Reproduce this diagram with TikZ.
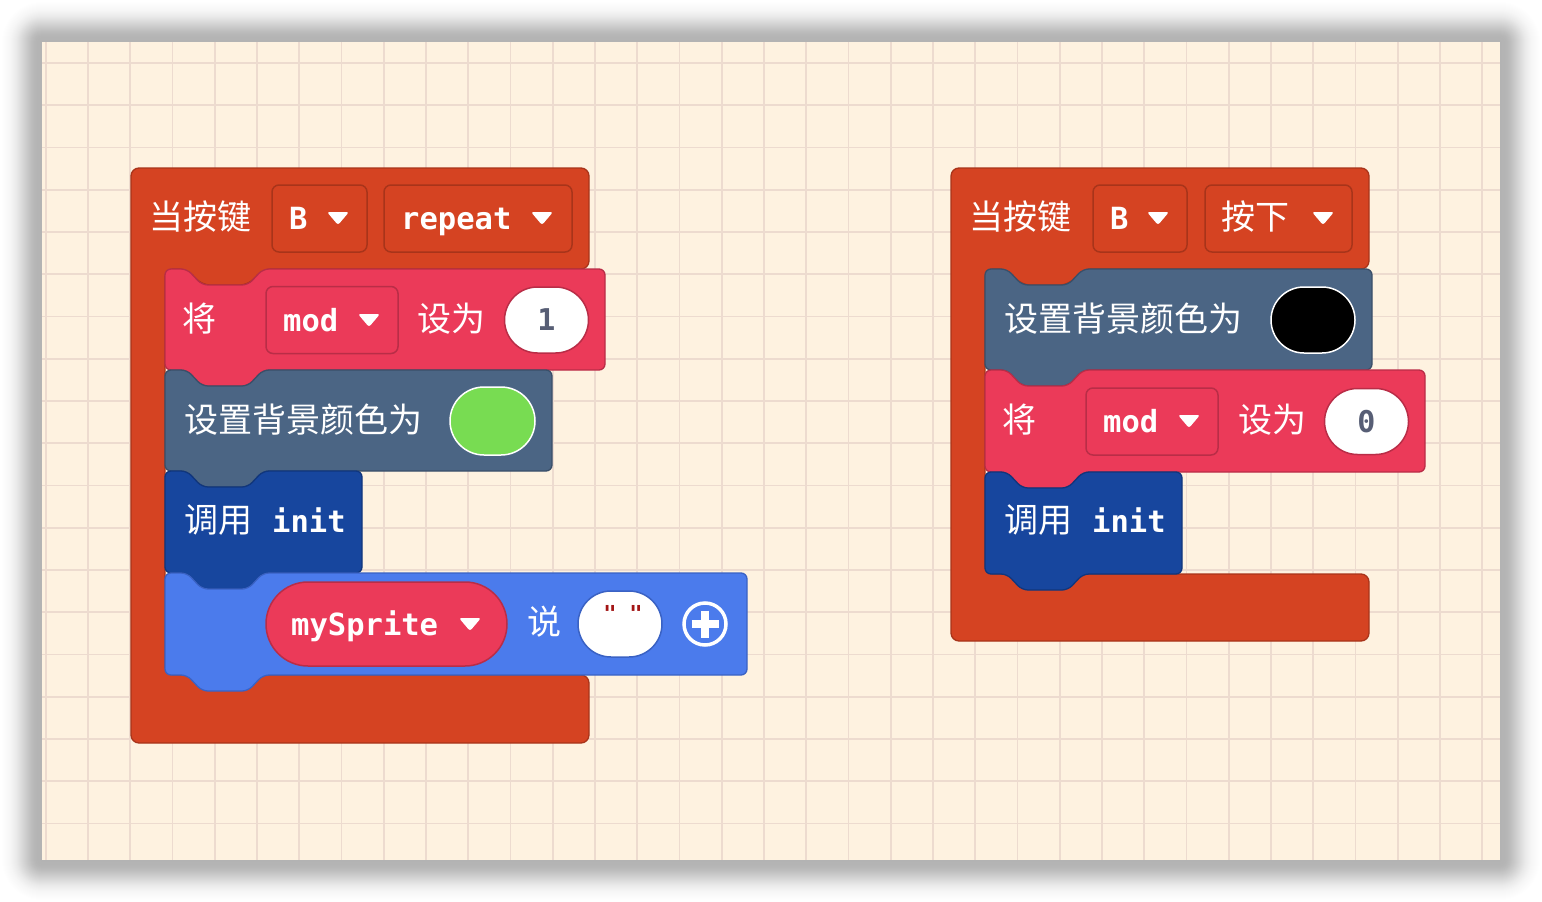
\documentclass[tikz,border=0pt]{standalone}
\usepackage{fontspec}
\newfontfamily\cjkfont{Noto Sans CJK SC}
\newfontfamily\codefont{DejaVu Sans Mono}
\usepackage{tikz}
\usetikzlibrary{positioning}
\definecolor{CanvasBg}{HTML}{FEF2E0}
\definecolor{GridLine}{HTML}{EDDBCF}
\definecolor{EventRed}{HTML}{D54322}
\definecolor{EventDark}{HTML}{A8341A}
\definecolor{VarPink}{HTML}{EB3A59}
\definecolor{VarDark}{HTML}{B92D47}
\definecolor{SceneSlate}{HTML}{4B6584}
\definecolor{SceneDark}{HTML}{3A4F69}
\definecolor{FuncBlue}{HTML}{17469E}
\definecolor{FuncDark}{HTML}{10367D}
\definecolor{SpriteBlue}{HTML}{4B7BEC}
\definecolor{SpriteDark}{HTML}{3A62C4}
\definecolor{ValueGray}{HTML}{575E75}
\definecolor{QuoteRed}{HTML}{A31515}
\definecolor{ColorGreen}{HTML}{78DC52}

% statement block with top notch and bottom tab: fill, border, x0, y0, x1, y1
\newcommand{\stmtblock}[6]{%
  \draw[blockline, fill=#1, draw=#2] (#3,#4) -- ++(22,0) -- ++(15,16) -- ++(46,0) -- ++(15,-16)
    -- (#5,#4) -- (#5,#6) -- (#3+98,#6) -- ++(-15,16) -- ++(-46,0) -- ++(-15,-16) -- (#3,#6) -- cycle;}
% white drop-down triangle
\newcommand{\dropmark}[2]{%
  \fill[white, rounded corners=2.5pt] (#1-11,#2-6) -- (#1+11,#2-6) -- (#1,#2+7) -- cycle;}

\begin{document}
\begin{tikzpicture}[
    x=1pt, y=-1pt,
    blockline/.style = {rounded corners=6pt, line width=1.3pt},
    cjklabel/.style = {
        anchor=base west, inner sep=0pt, text=white,
        font=\cjkfont\fontsize{34}{37}\selectfont
    },
    codelabel/.style = {
        anchor=base west, inner sep=0pt, text=white,
        font=\codefont\bfseries\fontsize{30.5}{33}\selectfont
    },
    dropbox/.style = {
        rectangle, rounded corners=7pt, line width=1.5pt,
        minimum height=67pt, inner sep=0pt
    },
    valueoval/.style = {
        rectangle, rounded corners=33pt, draw, line width=1.5pt,
        fill=white, minimum width=84pt, minimum height=66pt, inner sep=0pt,
        text=ValueGray, font=\codefont\bfseries\fontsize{30}{33}\selectfont
    },
    quotemark/.style = {
        inner sep=0pt, text=QuoteRed,
        font=\codefont\bfseries\fontsize{22}{24}\selectfont
    }
]
\useasboundingbox (0,0) rectangle (1542,902);

% ===== CANVAS =====
\foreach \s in {1,...,52} {
    \pgfmathsetmacro{\op}{0.00145*\s*exp(-(\s/22)^2)}
    \fill[black, opacity=\op, rounded corners=\s pt] (42-\s,42-\s) rectangle (1500+\s,860+\s);
}
\fill[CanvasBg] (42,42) rectangle (1500,860);
\begin{scope}
    \clip (42,42) rectangle (1500,860);
    \foreach \k in {0,...,34}
        \draw[GridLine, line width=1.8pt] (45.75+42.25*\k,42) -- (45.75+42.25*\k,860);
    \foreach \k in {0,...,18}
        \draw[GridLine, line width=1.8pt] (42,63+42.25*\k) -- (1500,63+42.25*\k);
\end{scope}

% ===== LEFT: BUTTON B REPEAT =====
\draw[rounded corners=8pt, line width=1.3pt, fill=EventRed, draw=EventDark]
    (131,743) -- (131,168) -- (589,168) -- (589,269) -- (263,269) -- (248,285) -- (202,285)
    -- (187,269) -- (165,269) -- (165,675) -- (589,675) -- (589,743) -- cycle;
\node[cjklabel] (lwhen) at (149,229) {当按键};
\node[dropbox, draw=EventDark, fill=EventRed, minimum width=95pt] (lbtn) at (319.5,218.5) {};
\node[codelabel] (lbtntxt) at (289,229) {B};
\dropmark{338}{218}
\node[dropbox, draw=EventDark, fill=EventRed, minimum width=188pt] (lmode) at (478,218.5) {};
\node[codelabel] (lmodetxt) at (401,229) {repeat};
\dropmark{542}{218}

% set mod to 1
\stmtblock{VarPink}{VarDark}{165}{269}{605}{370}
\node[cjklabel] (lset) at (182,331) {将};
\node[dropbox, draw=VarDark, fill=VarPink, minimum width=132pt] (lvar) at (332,320) {};
\node[codelabel] (lvartxt) at (283,331) {mod};
\dropmark{369}{320}
\node[cjklabel] (lto) at (417,331) {设为};
\node[valueoval, draw=VarDark] (lval) at (546.5,320) {1};

% set background color
\stmtblock{SceneSlate}{SceneDark}{165}{370}{552}{471}
\node[cjklabel] (lbg) at (184,432) {设置背景颜色为};
\node[rectangle, rounded corners=34pt, draw=white, line width=1.5pt, fill=ColorGreen,
      minimum width=85pt, minimum height=68pt] (lgreen) at (492.5,421) {};

% call init
\stmtblock{FuncBlue}{FuncDark}{165}{471}{362}{573}
\node[cjklabel] (lcall) at (184,532) {调用};
\node[codelabel] (linit) at (272,532) {init};

% mySprite say
\stmtblock{SpriteBlue}{SpriteDark}{165}{573}{747}{675}
\node[rectangle, rounded corners=42pt, draw=VarDark, line width=1.5pt, fill=VarPink,
      minimum width=241pt, minimum height=84pt] (lsprite) at (386.5,624) {};
\node[codelabel] (lspritetxt) at (291,635) {mySprite};
\dropmark{470}{624}
\node[cjklabel] (lsay) at (527,634) {说};
\node[valueoval, draw=SpriteDark] (lmsg) at (620,624) {};
\node[quotemark] (lq1) at (610,613) {"};
\node[quotemark] (lq2) at (636,613) {"};
\node[circle, draw=white, line width=3.5pt, minimum size=42pt, inner sep=0pt] (lplus) at (705,624) {};
\draw[white, line width=7.5pt] (lplus.center) ++(-13.5,0) -- ++(27,0) (lplus.center) ++(0,-13.5) -- ++(0,27);

% ===== RIGHT: BUTTON B PRESSED =====
\draw[rounded corners=8pt, line width=1.3pt, fill=EventRed, draw=EventDark]
    (951,641) -- (951,168) -- (1369,168) -- (1369,269) -- (1083,269) -- (1068,285) -- (1022,285)
    -- (1007,269) -- (985,269) -- (985,574) -- (1369,574) -- (1369,641) -- cycle;
\node[cjklabel] (rwhen) at (969,229) {当按键};
\node[dropbox, draw=EventDark, fill=EventRed, minimum width=94pt] (rbtn) at (1140,218.5) {};
\node[codelabel] (rbtntxt) at (1110,229) {B};
\dropmark{1158}{218}
\node[dropbox, draw=EventDark, fill=EventRed, minimum width=147pt] (rmode) at (1278.5,218.5) {};
\node[cjklabel] (rmodetxt) at (1221,229) {按下};
\dropmark{1323}{218}

% set background color
\stmtblock{SceneSlate}{SceneDark}{985}{269}{1372}{370}
\node[cjklabel] (rbg) at (1004,331) {设置背景颜色为};
\node[rectangle, rounded corners=33pt, draw=white, line width=1.5pt, fill=black,
      minimum width=84pt, minimum height=66pt] (rblack) at (1313,320) {};

% set mod to 0
\stmtblock{VarPink}{VarDark}{985}{370}{1425}{472}
\node[cjklabel] (rset) at (1002,432) {将};
\node[dropbox, draw=VarDark, fill=VarPink, minimum width=132pt] (rvar) at (1152,421.5) {};
\node[codelabel] (rvartxt) at (1103,432) {mod};
\dropmark{1189}{421}
\node[cjklabel] (rto) at (1238,432) {设为};
\node[valueoval, draw=VarDark] (rval) at (1366.5,421.5) {0};

% call init
\stmtblock{FuncBlue}{FuncDark}{985}{472}{1182}{574}
\node[cjklabel] (rcall) at (1004,532) {调用};
\node[codelabel] (rinit) at (1092,532) {init};
\end{tikzpicture}
\end{document}
